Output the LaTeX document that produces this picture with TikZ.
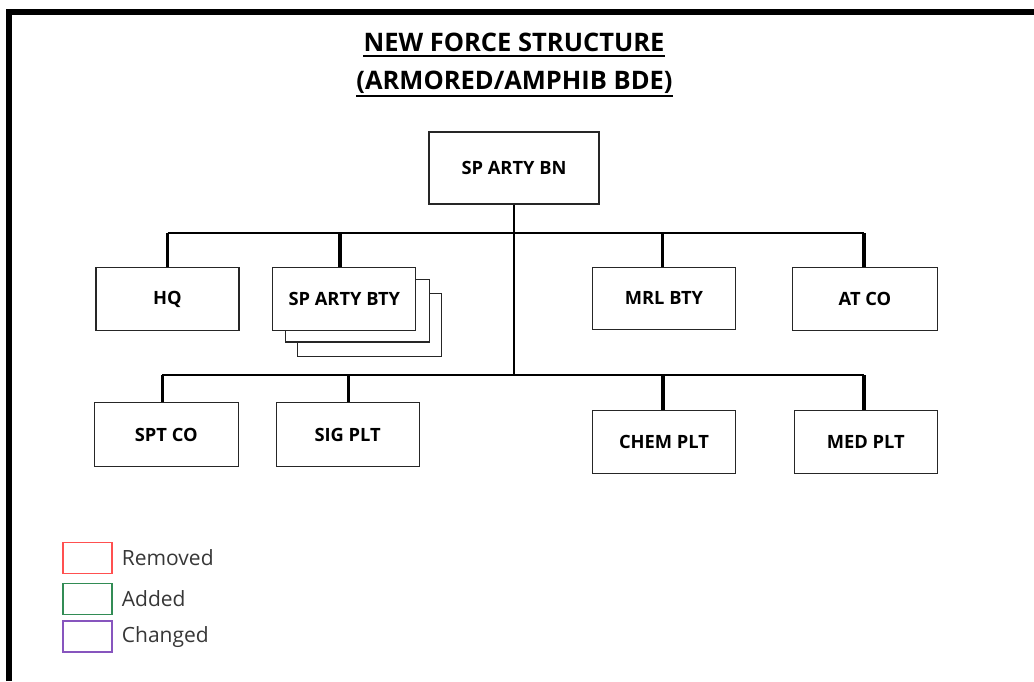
\documentclass[tikz,border=0pt]{standalone}
\usepackage{fontspec}
\setmainfont{Open Sans}
\definecolor{remred}{RGB}{255,80,80}
\definecolor{addgreen}{RGB}{50,140,85}
\definecolor{chgpurple}{RGB}{135,85,190}
\definecolor{legtext}{RGB}{55,55,55}
\tikzset{
  unit/.style={draw=black!85, line width=1.2pt, fill=white, rectangle, inner sep=0pt,
    minimum width=143pt, minimum height=63pt,
    font=\fontsize{18.3}{21}\selectfont\bfseries},
  backbox/.style={draw=black!85, line width=1.2pt, fill=white},
  bus/.style={line width=2.2pt},
  drop/.style={line width=3.2pt},
  legbox/.style={rectangle, line width=1.5pt, fill=white, minimum width=49pt, minimum height=31pt, inner sep=0pt},
  legtxt/.style={anchor=west, inner sep=0pt, text=legtext, font=\fontsize{21}{24}\selectfont},
  titletxt/.style={anchor=base, inner sep=0pt, font=\fontsize{25.5}{30}\selectfont\bfseries}
}
\begin{document}
\begin{tikzpicture}[x=1pt,y=-1pt]
\useasboundingbox (0,0) rectangle (1034,681);
\fill[white] (0,0) rectangle (1034,681);
% frame
\draw[line width=6pt, line join=miter] (9,681) -- (9,12) -- (1034,12);
% title
\node[titletxt] (t1) at (514,51.7) {NEW FORCE STRUCTURE};
\node[titletxt] (t2) at (514.5,89.5) {(ARMORED/AMPHIB BDE)};
\draw[line width=1.8pt] ([yshift=-4.5pt]t1.base west) -- ([yshift=-4.5pt]t1.base east);
\draw[line width=1.8pt] ([yshift=-6.5pt]t2.base west) -- ([yshift=-6.5pt]t2.base east);
% coordinates of buses and drop points
\coordinate (u) at (514,233);
\coordinate (l) at (514,375);
\coordinate (ue) at (864,233);
\coordinate (ub) at (340,233);
\coordinate (um) at (662.7,233);
\coordinate (lw) at (162.3,375);
\coordinate (ls) at (348.3,375);
\coordinate (lc) at (663,375);
\coordinate (le) at (864,375);
% top
\node[unit, minimum width=170pt, minimum height=72pt] (bn) at (514,168) {SP ARTY BN};
% stacked batteries (back copies)
\draw[backbox] (297.3,293.3) rectangle (441.7,356.7);
\draw[backbox] (285.7,279.3) rectangle (429.3,342);
% first row
\node[unit] (hq) at (167.5,299) {HQ};
\node[unit] (bty) at (344.3,298.7) {SP ARTY BTY};
\node[unit, minimum height=62pt] (mrl) at (664,298.2) {MRL BTY};
\node[unit, minimum width=144.6pt] (at) at (865,299) {AT CO};
% second row
\node[unit, minimum width=144pt, minimum height=64pt] (spt) at (166.3,434.7) {SPT CO};
\node[unit, minimum height=64pt] (sig) at (347.7,434.7) {SIG PLT};
\node[unit] (chem) at (664,442.3) {CHEM PLT};
\node[unit] (med) at (865.7,442.3) {MED PLT};
% trunk
\draw[bus] (bn.south) -- (l);
% upper bus
\draw[bus] (hq.north |- u) -- (ue);
\draw[drop] (hq.north) -- (hq.north |- u);
\draw[drop] (ub) -- (ub |- bty.north);
\draw[drop] (um) -- (um |- mrl.north);
\draw[drop] (ue) -- (ue |- at.north);
% lower bus
\draw[bus] (lw) -- (le);
\draw[drop] (lw) -- (lw |- spt.north);
\draw[drop] (ls) -- (ls |- sig.north);
\draw[drop] (lc) -- (lc |- chem.north);
\draw[drop] (le) -- (le |- med.north);
% legend
\node[legbox, draw=remred] (lr) at (87.5,557.9) {};
\node[legbox, draw=addgreen] (lg) at (87.5,598.8) {};
\node[legbox, draw=chgpurple] (lp) at (87.5,636.7) {};
\node[legtxt] (tr) at (121.7,558) {Removed};
\node[legtxt] (tg) at (121.7,599) {Added};
\node[legtxt] (tp) at (121.7,637) {Changed};
\end{tikzpicture}
\end{document}
